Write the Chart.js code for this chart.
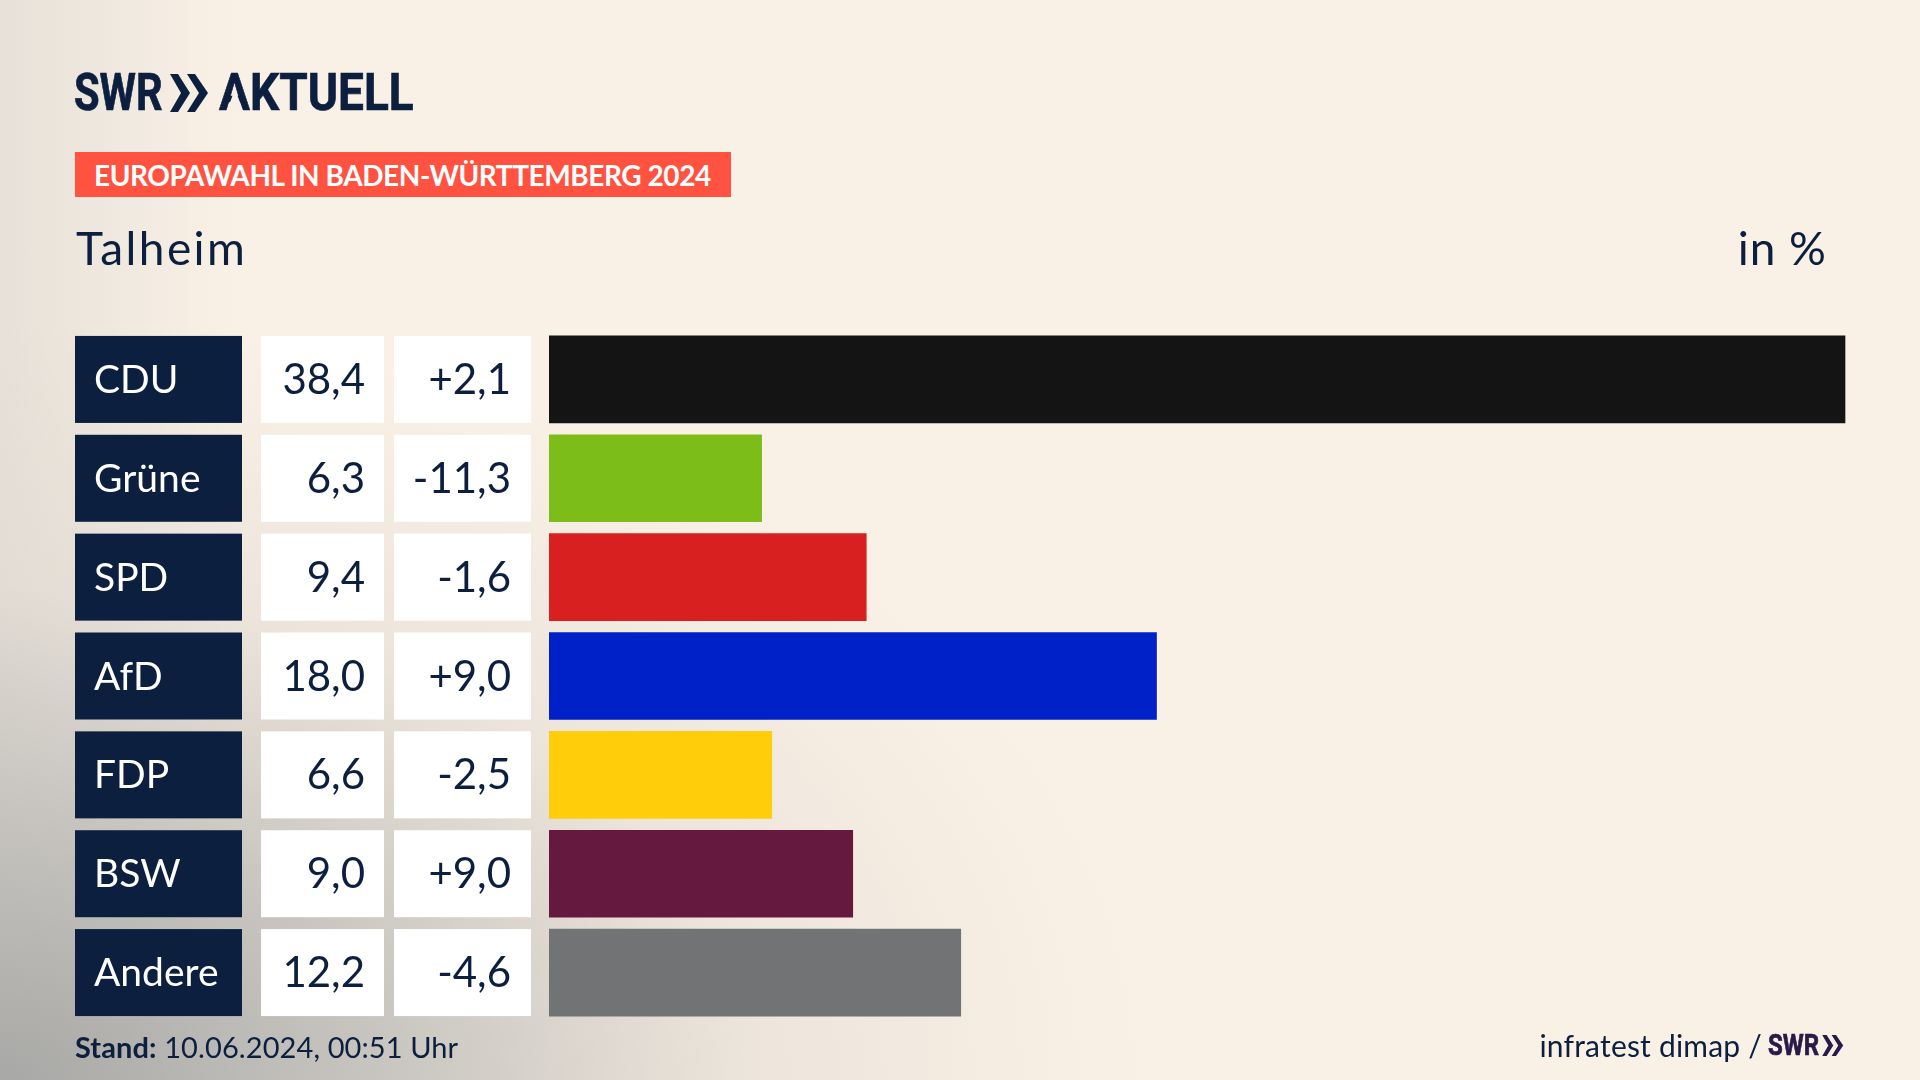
<!DOCTYPE html>
<html lang="de">
<head>
<meta charset="utf-8">
<title>Europawahl in Baden-Württemberg 2024 - Talheim</title>
<script src="https://cdn.jsdelivr.net/npm/chart.js@4"></script>
<style>
    html, body { margin: 0; padding: 0; }
    body {
        width: 1920px; height: 1080px; overflow: hidden; position: relative;
        font-family: Lato, "Noto Sans", sans-serif; color: #0c1f3f;
        background:
            radial-gradient(ellipse 1150px 760px at 0 1080px, rgba(168,168,166,1) 0, rgba(190,188,184,.8) 35%, rgba(220,214,206,.45) 65%, rgba(250,241,230,0) 100%),
            linear-gradient(90deg, rgba(222,218,211,.7) 0, rgba(250,241,230,0) 240px),
            #faf1e6;
    }
    canvas { position: absolute; left: 0; top: 0; }
    .t { position: absolute; white-space: nowrap; line-height: 1; }
    .logo { font-family: Roboto, sans-serif; font-weight: 700; transform-origin: left center; -webkit-text-stroke: .7px currentColor; }
    svg { position: absolute; }
</style>
</head>
<body>
<canvas id="chart" width="1920" height="1080"></canvas>

<div class="t logo" style="left:74px;top:67px;font-size:52px;transform:scaleX(.8)">SWR</div>
<svg style="left:170px;top:74px" width="39" height="38" viewBox="0 0 39 38" fill="#0c1f3f">
    <path d="M0 0 L8 0 L20 19 L8 38 L0 38 L11 19 Z"/><path d="M17 0 L25 0 L38 19 L25 38 L17 38 L29 19 Z"/>
</svg>
<div class="t logo" style="left:219px;top:67px;font-size:52px;transform:scaleX(.885)">AKTUELL</div>
<!-- the logo's A has no crossbar -->
<svg style="left:224px;top:89px" width="22" height="24" viewBox="0 0 22 24" fill="#f9f0e5"><path d="M11 0 L20 24 L2 24 Z"/></svg>

<div style="position:absolute;left:75px;top:152px;width:656px;height:45px;background:#ff5240"></div>
<div class="t" style="left:94px;top:161px;font-size:28px;font-weight:700;letter-spacing:-.43px;color:#fff">EUROPAWAHL IN BADEN-WÜRTTEMBERG 2024</div>
<div class="t" style="left:76px;top:225px;font-size:46px;letter-spacing:2.4px">Talheim</div>
<div class="t" style="right:93px;top:225px;font-size:46px;letter-spacing:1px">in %</div>

<div class="t" style="left:75px;top:1032px;font-size:29px;letter-spacing:.1px"><b>Stand:</b> 10.06.2024, 00:51 Uhr</div>
<div class="t" style="right:158px;top:1030px;font-size:30px;letter-spacing:.2px">infratest dimap /</div>
<div class="t logo" style="left:1768px;top:1030px;font-size:30px;color:#2a1a4a;transform:scaleX(.8)">SWR</div>
<svg style="left:1822px;top:1035px" width="22" height="21" viewBox="0 0 39 38" fill="#2a1a4a">
    <path d="M0 0 L8 0 L20 19 L8 38 L0 38 L11 19 Z"/><path d="M17 0 L25 0 L38 19 L25 38 L17 38 L29 19 Z"/>
</svg>

<script>
// ── DATA ──
const PARTIES = ['CDU', 'Grüne', 'SPD', 'AfD', 'FDP', 'BSW', 'Andere'];
const SHARES = [38.4, 6.3, 9.4, 18.0, 6.6, 9.0, 12.2];
const CHANGES = [2.1, -11.3, -1.6, 9.0, -2.5, 9.0, -4.6];
const BAR_COLORS = ['#141414', '#7cbd19', '#d7201f', '#0021c8', '#ffcd0a', '#65193f', '#727374'];

const NAVY = '#0c1f3f';
const FONT = 'Lato, "Noto Sans", sans-serif';
const de = v => v.toFixed(1).replace('.', ',');
const signed = v => (v > 0 ? '+' : '') + de(v);

// Name boxes and number cells, one row per category on the y scale
const tablePlugin = {
    id: 'table',
    afterDraw(chart) {
        const ctx = chart.ctx, y = chart.scales.y;
        ctx.save();
        ctx.textBaseline = 'middle';
        chart.data.labels.forEach((name, i) => {
            const cy = y.getPixelForValue(i), top = cy - 43.5;
            ctx.fillStyle = NAVY;
            ctx.fillRect(75, top, 167, 87);
            ctx.fillStyle = '#fff';
            ctx.fillRect(261, top, 123, 87);
            ctx.fillRect(394, top, 137, 87);

            ctx.font = '39px ' + FONT;
            ctx.textAlign = 'left';
            ctx.fillText(name, 94, cy + 1);

            ctx.font = '42px ' + FONT;
            ctx.textAlign = 'right';
            ctx.fillStyle = NAVY;
            ctx.fillText(de(SHARES[i]), 365, cy + 1);
            ctx.fillText(signed(CHANGES[i]), 511, cy + 1);
        });
        ctx.restore();
    }
};

new Chart(document.getElementById('chart'), {
    type: 'bar',
    data: {
        labels: PARTIES,
        datasets: [{data: SHARES, backgroundColor: BAR_COLORS, barThickness: 87, borderWidth: 0}]
    },
    plugins: [tablePlugin],
    options: {
        indexAxis: 'y', responsive: false, animation: false, devicePixelRatio: 1,
        layout: {padding: {left: 549, right: 21, top: 330, bottom: 58}},
        plugins: {legend: {display: false}, tooltip: {enabled: false}},
        scales: {
            x: {display: false, min: 0, max: 40},
            y: {display: false}
        }
    }
});
</script>
</body>
</html>
